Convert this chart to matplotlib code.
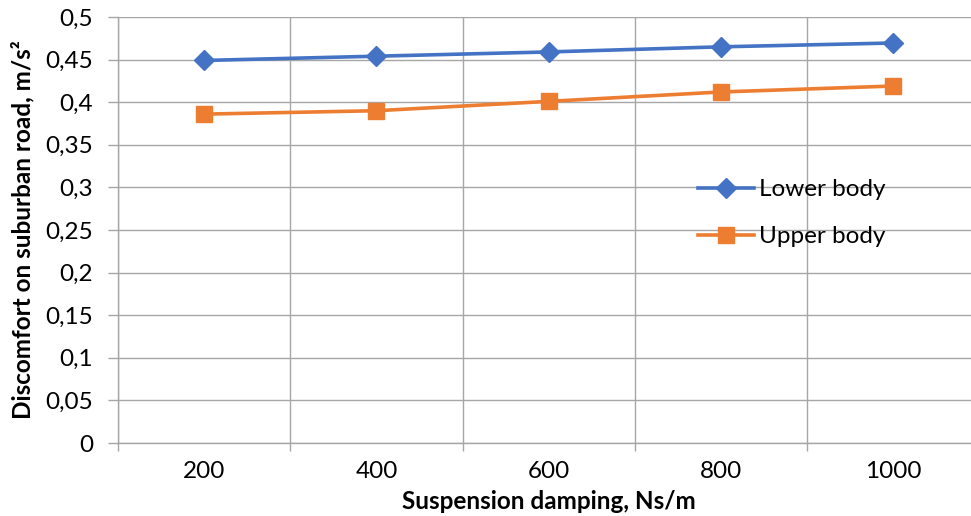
import numpy as np
import matplotlib.pyplot as plt
from matplotlib.ticker import FixedLocator, FuncFormatter

plt.rcParams['font.family'] = ['Lato', 'DejaVu Sans']

# Suspension damping values and the resulting discomfort
damping = ['200', '400', '600', '800', '1000']
lower_body = [0.449, 0.454, 0.459, 0.465, 0.4695]
upper_body = [0.386, 0.390, 0.401, 0.412, 0.419]

GRID = '#a6a6a6'
BLUE = '#4472c4'
ORANGE = '#ed7d31'
FS = 17.5

fig = plt.figure(figsize=(9.71, 5.16), dpi=100)
ax = fig.add_axes([118 / 971, 1 - 443 / 516, 861.5 / 971, 426 / 516])

x = np.arange(len(damping))
ax.plot(x, lower_body, color=BLUE, lw=2.6, marker='D', ms=10.5,
        label='Lower body', zorder=3)
ax.plot(x, upper_body, color=ORANGE, lw=2.6, marker='s', ms=12,
        label='Upper body', zorder=3)

ax.set_xlim(-0.5, len(damping) - 0.5)
ax.set_ylim(0, 0.5)

# category axis: labels at the points, gridlines between them
ax.set_xticks(x)
ax.set_xticklabels(damping)
ax.xaxis.set_minor_locator(FixedLocator(np.arange(-0.5, len(damping), 1.0)))
ax.tick_params(axis='x', which='major', length=0, pad=13, labelsize=FS)
ax.tick_params(axis='x', which='minor', length=6, width=1, color=GRID,
               direction='out')
ax.grid(axis='x', which='minor', color=GRID, lw=1)

ax.set_yticks(np.arange(0, 0.501, 0.05))
ax.yaxis.set_major_formatter(
    FuncFormatter(lambda v, p: ('%g' % round(v, 2)).replace('.', ',')))
ax.tick_params(axis='y', length=7, width=1, color=GRID, pad=11, labelsize=FS)
ax.grid(axis='y', color=GRID, lw=1)

for side in ['top', 'right']:
    ax.spines[side].set_visible(False)
for side in ['left', 'bottom']:
    ax.spines[side].set_color(GRID)
    ax.spines[side].set_linewidth(1)

ax.set_xlabel('Suspension damping, Ns/m', fontsize=FS, fontweight='bold')
ax.set_ylabel('Discomfort on suburban road, m/s²', fontsize=FS,
              fontweight='bold')
ax.xaxis.set_label_coords((549 - 118) / 861.5, -(490 - 443) / 426)
ax.yaxis.set_label_coords(-(118 - 34) / 861.5, 0.5)

ax.legend(loc='upper left', bbox_to_anchor=(698 / 971, 1 - 179 / 516),
          bbox_transform=fig.transFigure, frameon=False, fontsize=FS,
          handlelength=2.3, handletextpad=0.2, labelspacing=1.08,
          borderpad=0, borderaxespad=0)

fig.savefig('out.png', dpi=100)
